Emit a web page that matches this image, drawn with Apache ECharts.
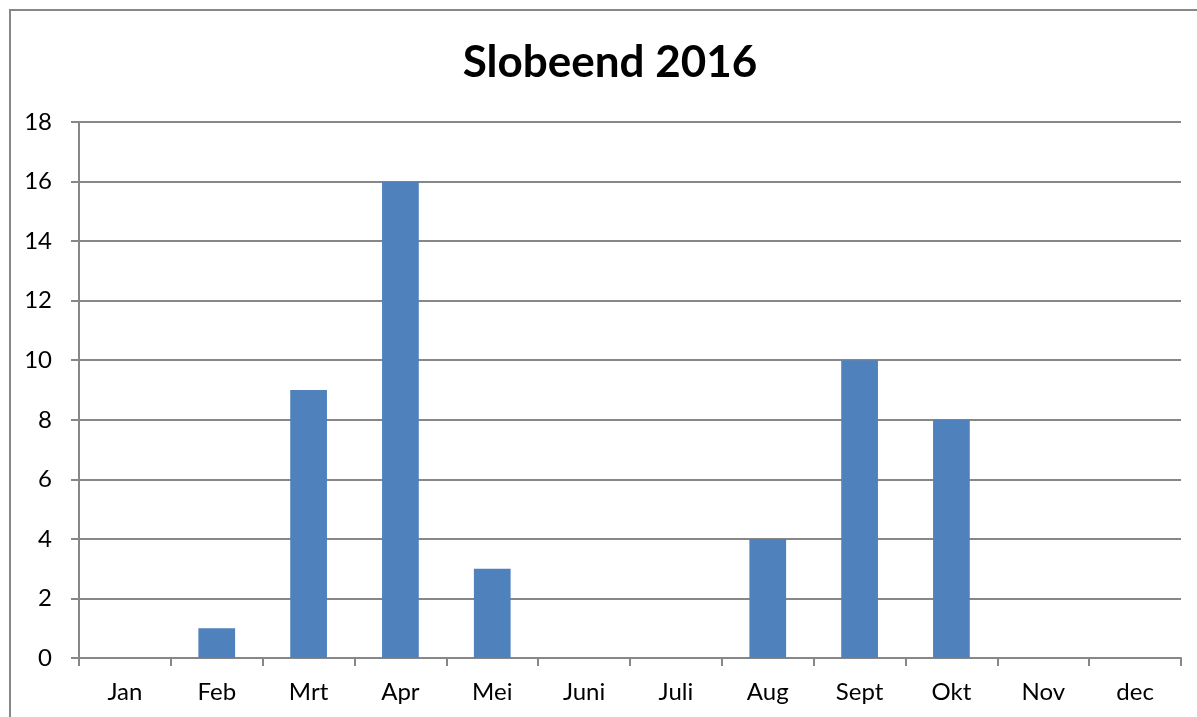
<!DOCTYPE html>
<html>
<head>
<meta charset="utf-8">
<script src="https://cdn.jsdelivr.net/npm/echarts@6/dist/echarts.min.js"></script>
<style>
  html, body { margin: 0; padding: 0; background: #fff; }
  #chart { width: 1197px; height: 717px; }
</style>
</head>
<body>
<div id="chart"></div>
<script>
// Slobeend 2016 - aantallen per maand
const months = ['Jan', 'Feb', 'Mrt', 'Apr', 'Mei', 'Juni', 'Juli', 'Aug', 'Sept', 'Okt', 'Nov', 'dec']
const counts = [0, 1, 9, 16, 3, 0, 0, 4, 10, 8, 0, 0]
const yTicks = [0, 2, 4, 6, 8, 10, 12, 14, 16, 18]

function slobeend() {
    const box = document.querySelector('#chart')
    const myChart = echarts.init(box)
    const grey = '#878787'
    const option = {
        animation: false,
        textStyle: { fontFamily: 'Lato, "Open Sans", sans-serif' },
        title: {
            text: 'Slobeend 2016',
            left: 605,
            top: 36,
            textAlign: 'center',
            textStyle: {
                fontSize: 44,
                fontWeight: 'bold',
                color: '#000',
                fontFamily: 'Lato, "Open Sans", sans-serif'
            }
        },
        // outer chart border
        graphic: [{
            type: 'rect',
            shape: { x: 10, y: 10, width: 1200, height: 720 },
            style: { fill: 'none', stroke: grey, lineWidth: 2 },
            silent: true
        }],
        grid: {
            left: 79,
            right: 16,
            top: 122,
            bottom: 59
        },
        xAxis: {
            type: 'category',
            data: months,
            axisLine: { lineStyle: { color: grey, width: 2 } },
            axisTick: {
                show: true,
                alignWithLabel: false,
                length: 8,
                lineStyle: { color: grey, width: 2 }
            },
            axisLabel: {
                color: '#000',
                fontSize: 24,
                margin: 22
            }
        },
        yAxis: {
            type: 'value',
            min: 0,
            max: 18,
            interval: 2,
            axisLine: { show: true, lineStyle: { color: grey, width: 2 } },
            axisTick: {
                show: true,
                length: 8,
                lineStyle: { color: grey, width: 2 }
            },
            axisLabel: {
                color: '#000',
                fontSize: 24,
                margin: 27,
                customValues: yTicks
            },
            splitLine: { lineStyle: { color: grey, width: 2 } }
        },
        series: [{
            type: 'bar',
            data: counts,
            barWidth: '40%',
            itemStyle: { color: '#4F81BD' }
        }]
    }
    myChart.setOption(option)
}
slobeend()
</script>
</body>
</html>
